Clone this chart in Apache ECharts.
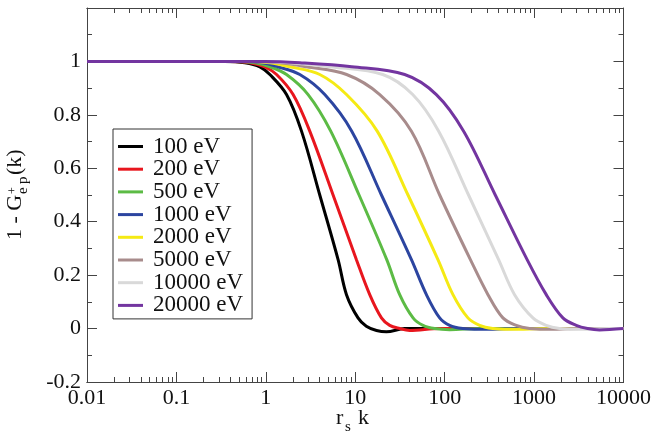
<!DOCTYPE html>
<html>
<head>
<meta charset="utf-8">
<script src="https://cdn.jsdelivr.net/npm/echarts@6/dist/echarts.min.js"></script>
<style>html,body{margin:0;padding:0;background:#fff;}#c{width:654px;height:437px;}</style>
</head>
<body>
<div id="c"></div>
<script>
// ---- tick labels ----
const xTickLabels = ['0.01', '0.1', '1', '10', '100', '1000', '10000'];
const xMajorTicks = [0.01, 0.1, 1, 10, 100, 1000, 10000];
const xMinorTicks = [0.02,0.03,0.04,0.05,0.06,0.07,0.08,0.09,
  0.2,0.3,0.4,0.5,0.6,0.7,0.8,0.9,
  2,3,4,5,6,7,8,9,
  20,30,40,50,60,70,80,90,
  200,300,400,500,600,700,800,900,
  2000,3000,4000,5000,6000,7000,8000,9000];

// ---- series names and colors ----
const energies = ['100 eV', '200 eV', '500 eV', '1000 eV', '2000 eV', '5000 eV', '10000 eV', '20000 eV'];
const colors = ['#000000', '#e8161e', '#5cbb45', '#2c45a0', '#f5ea14', '#a88c8c', '#d9d9d9', '#7335a0'];

// ---- values (x = r_s k, y = 1 - G) ----
const x100 = [0.01, 0.348, 0.582, 0.857, 1.109, 1.703, 2.506, 4.01, 6.43, 7.98, 10.74, 13.3, 17.3, 22.3, 35.7, 10000];
const y100 = [1, 1, 0.995, 0.98, 0.951, 0.876, 0.739, 0.5, 0.258, 0.127, 0.04, 0.009, -0.007, -0.012, 0, 0];

const x200 = [0.01, 0.396, 0.662, 0.975, 1.318, 2.018, 3.10, 5.65, 10.31, 14.52, 19.63, 24.3, 31.4, 40.6, 87.9, 10000];
const y200 = [1, 1, 0.995, 0.98, 0.951, 0.876, 0.739, 0.5, 0.258, 0.127, 0.04, 0.012, 0, -0.007, 0, 0];

const x500 = [0.01, 0.451, 0.753, 1.109, 1.703, 2.97, 5.32, 11.03, 22.5, 31.4, 44.3, 57.2, 77.3, 113.7, 246, 10000];
const y500 = [1, 1, 0.995, 0.98, 0.951, 0.876, 0.739, 0.5, 0.258, 0.127, 0.04, 0.012, 0, -0.004, 0, 0];

const x1000 = [0.01, 0.512, 0.902, 1.362, 2.40, 4.56, 9.14, 19.63, 42.5, 62.5, 87.9, 113.7, 159, 246, 689, 10000];
const y1000 = [1, 1, 0.995, 0.98, 0.951, 0.876, 0.739, 0.5, 0.258, 0.127, 0.04, 0.012, 0, -0.003, 0, 0];

const x2000 = [0.01, 0.582, 1.109, 1.855, 4.01, 7.98, 17.6, 38.9, 84.1, 123.8, 182, 246, 344, 532, 1490, 10000];
const y2000 = [1, 1, 0.995, 0.98, 0.951, 0.876, 0.739, 0.5, 0.258, 0.127, 0.04, 0.012, 0, -0.003, 0, 0];

const x5000 = [0.01, 0.662, 1.43, 2.85, 8.0, 18.8, 42.5, 87.9, 194, 305, 448, 632, 891, 1310, 3223, 10000];
const y5000 = [1, 1, 0.995, 0.98, 0.951, 0.876, 0.739, 0.5, 0.258, 0.127, 0.04, 0.012, 0, -0.003, 0, 0];

const x10000 = [0.01, 0.753, 1.855, 5.19, 20.3, 43.9, 85.7, 185, 401, 605, 970, 1368, 1928, 2836, 6980, 10000];
const y10000 = [1, 1, 0.995, 0.98, 0.951, 0.876, 0.739, 0.5, 0.258, 0.127, 0.04, 0.012, 0, -0.003, 0, 0];

const x20000 = [0.01, 0.975, 2.40, 9.14, 35.7, 80.7, 163, 368, 836, 1368, 2099, 2960, 3963, 5395, 10000];
const y20000 = [1, 1, 0.995, 0.98, 0.951, 0.876, 0.739, 0.5, 0.258, 0.127, 0.04, 0.012, 0, -0.005, 0];

const xs = [x100, x200, x500, x1000, x2000, x5000, x10000, x20000];
const ys = [y100, y200, y500, y1000, y2000, y5000, y10000, y20000];

const FONT = 'Liberation Serif';
const axisCol = '#444';

const chart = echarts.init(document.getElementById('c'), null, {renderer: 'canvas'});

function xAxisDef(pos, ticks, len, showLabel) {
  return {
    type: 'log', logBase: 10, min: 0.01, max: 10000, position: pos,
    axisLine: {show: true, onZero: false, lineStyle: {color: axisCol, width: 1}},
    axisTick: {show: true, inside: true, length: len, customValues: ticks, lineStyle: {color: axisCol, width: 1}},
    axisLabel: {show: showLabel, customValues: xMajorTicks, margin: 5, color: '#111', fontFamily: FONT, fontSize: 22,
      formatter: v => xTickLabels[Math.round(Math.log10(v)) + 2]},
    splitLine: {show: false}, minorTick: {show: false}
  };
}
function yAxisDef(pos, showLabel) {
  return {
    type: 'value', min: -0.2, max: 1.2, interval: 0.2, position: pos,
    axisLine: {show: true, onZero: false, lineStyle: {color: axisCol, width: 1}},
    axisTick: {show: true, inside: true, length: 10, lineStyle: {color: axisCol, width: 1}},
    minorTick: {show: true, splitNumber: 2, length: 5, lineStyle: {color: axisCol, width: 1}},
    axisLabel: {show: showLabel, margin: 6, color: '#111', fontFamily: FONT, fontSize: 22,
      formatter: v => (v > 1.05 ? '' : String(Math.round(v * 10) / 10))},
    splitLine: {show: false}, minorSplitLine: {show: false}
  };
}

const series = energies.map((name, i) => ({
  name: name, type: 'line', xAxisIndex: 0, yAxisIndex: 0,
  data: xs[i].map((x, j) => [x, ys[i][j]]),
  smooth: 0.35, showSymbol: false, symbol: 'none',
  lineStyle: {color: colors[i], width: 3}, itemStyle: {color: colors[i]},
  z: 2 + i, animation: false
}));

chart.setOption({
  animation: false,
  backgroundColor: '#fff',
  grid: {left: 87, right: 30, top: 8, bottom: 55, containLabel: false},
  xAxis: [
    xAxisDef('bottom', xMajorTicks, 10, true),
    xAxisDef('bottom', xMinorTicks, 5, false),
    xAxisDef('top', xMajorTicks, 10, false),
    xAxisDef('top', xMinorTicks, 5, false)
  ],
  yAxis: [yAxisDef('left', true), yAxisDef('right', false)],
  legend: {
    orient: 'vertical', left: 113, top: 129,
    data: energies, icon: 'rect', itemWidth: 25, itemHeight: 3, itemGap: -0.3,
    padding: [6, 9, 2, 5], borderColor: '#333', borderWidth: 1, backgroundColor: '#fff',
    textStyle: {fontFamily: FONT, fontSize: 23, color: '#111', padding: [0, 0, 0, 5]},
    selectedMode: false
  },
  graphic: [
    {
      type: 'group', x: 15, y: 240, rotation: Math.PI / 2,
      children: [
        {type: 'text', x: 0, y: 0, style: {text: '1 - G', font: '22px "Liberation Serif"', fill: '#111', textAlign: 'left', textVerticalAlign: 'middle'}},
        {type: 'text', x: 46, y: 8, style: {text: 'e', font: '15px "Liberation Serif"', fill: '#111', textAlign: 'left', textVerticalAlign: 'middle'}},
        {type: 'text', x: 46, y: -2, style: {text: '+', font: '12px "Liberation Serif"', fill: '#111', textAlign: 'left', textVerticalAlign: 'middle'}},
        {type: 'text', x: 56, y: 8, style: {text: 'p', font: '15px "Liberation Serif"', fill: '#111', textAlign: 'left', textVerticalAlign: 'middle'}},
        {type: 'text', x: 65, y: 0, style: {text: '(k)', font: '22px "Liberation Serif"', fill: '#111', textAlign: 'left', textVerticalAlign: 'middle'}}
      ]
    },
    {type: 'text', left: 336, top: 407, style: {text: 'r', font: '22px "Liberation Serif"', fill: '#111'}},
    {type: 'text', left: 345, top: 420, style: {text: 's', font: '15px "Liberation Serif"', fill: '#111'}},
    {type: 'text', left: 358, top: 407, style: {text: 'k', font: '22px "Liberation Serif"', fill: '#111'}}
  ],
  series: series
});
</script>
</body>
</html>
